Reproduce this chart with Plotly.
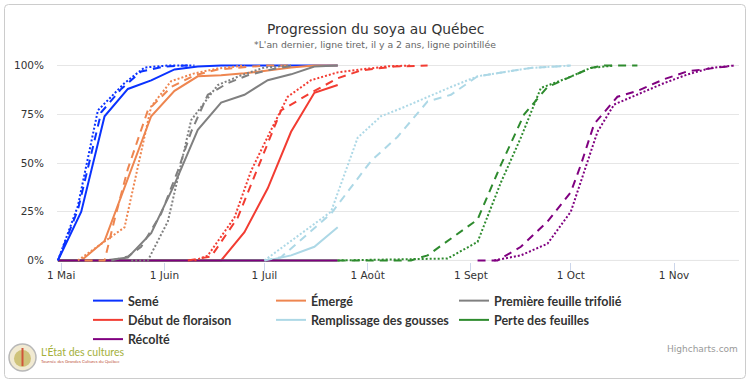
import plotly.graph_objects as go

# ---------------- data ----------------
month_ticks = ["2025-05-01", "2025-06-01", "2025-07-01", "2025-08-01",
               "2025-09-01", "2025-10-01", "2025-11-01"]
month_labels = ["1 Mai", "1 Juin", "1 Juil", "1 Août", "1 Sept", "1 Oct", "1 Nov"]
pct_ticks = [0, 25, 50, 75, 100]
pct_labels = ["0%", "25%", "50%", "75%", "100%"]

phases = ["Semé", "Émergé", "Première feuille trifolié", "Début de floraison",
          "Remplissage des gousses", "Perte des feuilles", "Récolté"]
phase_colors = ["#0a32ff", "#ee8650", "#808080", "#f23c32",
                "#add8e6", "#2e8b2e", "#800080"]

# current year (solid)
cur_dates = ["2025-04-30", "2025-05-07", "2025-05-14", "2025-05-21", "2025-05-28",
             "2025-06-04", "2025-06-11", "2025-06-18", "2025-06-25", "2025-07-02",
             "2025-07-09", "2025-07-16", "2025-07-23"]
seme_cur = [0, 25, 74, 88, 92.4, 98, 99.5, 100, 100, 100, 100, 100, 100]
emerge_cur = [0, 0, 10, 42, 74, 87, 94.5, 95, 96, 97.5, 99, 100, 100]
premiere_cur = [0, 0, 0, 1.5, 14, 39, 67, 81, 85, 92.5, 95.5, 99.5, 100]
debut_cur = [0, 0, 0, 0, 0, 0, 0, 0, 14.5, 37, 66, 86, 90]
rempl_cur = [0, 0, 0, 0, 0, 0, 0, 0, 0, 0, 2.6, 7, 17]
perte_cur = [0, 0, 0, 0, 0, 0, 0, 0, 0, 0, 0, 0, 0]
recolte_cur = [0, 0, 0, 0, 0, 0, 0, 0, 0, 0, 0, 0, 0]

# last year (dashed)
seme_ly_dates = ["2025-04-30", "2025-05-06", "2025-05-13", "2025-05-19", "2025-05-25",
                 "2025-06-01", "2025-06-08"]
seme_ly = [0, 26, 76, 88, 97, 99.5, 100]
emerge_ly_dates = ["2025-05-08", "2025-05-14", "2025-05-17", "2025-05-21", "2025-05-27",
                   "2025-06-03", "2025-06-10", "2025-06-17", "2025-06-24", "2025-07-01",
                   "2025-07-09"]
emerge_ly = [0, 0, 21, 47, 77, 89, 95, 98, 99, 100, 100]
premiere_ly_dates = ["2025-05-16", "2025-05-21", "2025-05-25", "2025-05-31", "2025-06-05",
                     "2025-06-09", "2025-06-14", "2025-06-20", "2025-06-26", "2025-07-03",
                     "2025-07-10"]
premiere_ly = [0, 2, 7, 24, 46, 66, 85, 91, 95, 98, 100]
debut_ly_dates = ["2025-06-08", "2025-06-15", "2025-06-23", "2025-06-30", "2025-07-06",
                  "2025-07-15", "2025-07-23", "2025-07-30", "2025-08-09", "2025-08-19"]
debut_ly = [0, 2, 22, 52, 77, 86, 93.5, 97.5, 99.5, 100]
rempl_ly_dates = ["2025-07-01", "2025-07-06", "2025-07-21", "2025-08-02", "2025-08-10",
                  "2025-08-19", "2025-08-26", "2025-09-03", "2025-09-19", "2025-10-01"]
rempl_ly = [0, 1.7, 24, 51, 63.5, 81.6, 85, 94.5, 98.8, 100]
perte_ly_dates = ["2025-07-23", "2025-08-14", "2025-08-19", "2025-09-03", "2025-09-10",
                  "2025-09-17", "2025-09-24", "2025-09-30", "2025-10-07", "2025-10-11",
                  "2025-10-21"]
perte_ly = [0, 0, 2.6, 21, 49, 75, 89, 93.6, 98.8, 100, 100]
recolte_ly_dates = ["2025-09-03", "2025-09-09", "2025-09-16", "2025-09-24", "2025-10-01",
                    "2025-10-04", "2025-10-08", "2025-10-15", "2025-10-21", "2025-10-29",
                    "2025-11-05", "2025-11-19"]
recolte_ly = [0, 0, 7, 20, 35, 49, 70, 84, 87, 93, 97, 100]

# two years ago (dotted)
seme_2y_dates = ["2025-04-30", "2025-05-06", "2025-05-12", "2025-05-20", "2025-05-26",
                 "2025-06-02", "2025-06-10"]
seme_2y = [0, 28, 77, 91, 99, 100, 100]
emerge_2y_dates = ["2025-05-06", "2025-05-14", "2025-05-20", "2025-05-28", "2025-06-03",
                   "2025-06-10", "2025-06-17", "2025-06-25"]
emerge_2y = [0, 9.5, 17, 79, 92, 96, 98.5, 100]
premiere_2y_dates = ["2025-05-22", "2025-05-27", "2025-06-02", "2025-06-09", "2025-06-17",
                     "2025-06-24", "2025-07-01", "2025-07-09"]
premiere_2y = [0, 0, 20, 72, 90, 95, 99, 100]
debut_2y_dates = ["2025-06-10", "2025-06-14", "2025-06-22", "2025-06-27", "2025-07-03",
                  "2025-07-08", "2025-07-15", "2025-07-23", "2025-07-30", "2025-08-07",
                  "2025-08-14"]
debut_2y = [0, 2.5, 22, 46, 67, 84, 92.5, 96.5, 98, 99.6, 100]
rempl_2y_dates = ["2025-07-01", "2025-07-21", "2025-07-29", "2025-08-05", "2025-08-11",
                  "2025-08-19", "2025-08-26", "2025-09-03", "2025-09-19", "2025-10-01"]
rempl_2y = [0, 25, 63, 74, 78, 84, 89, 94.5, 98.8, 100]
perte_2y_dates = ["2025-07-23", "2025-08-25", "2025-09-03", "2025-09-10", "2025-09-16",
                  "2025-09-22", "2025-09-30", "2025-10-07", "2025-10-14"]
perte_2y = [0, 1, 9.5, 40, 63, 88.5, 93.6, 98.8, 100]
recolte_2y_dates = ["2025-09-08", "2025-09-16", "2025-09-24", "2025-10-01", "2025-10-05",
                    "2025-10-09", "2025-10-14", "2025-10-21", "2025-10-29", "2025-11-05",
                    "2025-11-12", "2025-11-19"]
recolte_2y = [0, 2.6, 8.6, 25, 45.5, 66, 80, 85, 91, 95.4, 98.8, 100]

cur_series = [seme_cur, emerge_cur, premiere_cur, debut_cur, rempl_cur, perte_cur, recolte_cur]
ly_series = [(seme_ly_dates, seme_ly), (emerge_ly_dates, emerge_ly),
             (premiere_ly_dates, premiere_ly), (debut_ly_dates, debut_ly),
             (rempl_ly_dates, rempl_ly), (perte_ly_dates, perte_ly),
             (recolte_ly_dates, recolte_ly)]
two_y_series = [(seme_2y_dates, seme_2y), (emerge_2y_dates, emerge_2y),
                (premiere_2y_dates, premiere_2y), (debut_2y_dates, debut_2y),
                (rempl_2y_dates, rempl_2y), (perte_2y_dates, perte_2y),
                (recolte_2y_dates, recolte_2y)]

# ---------------- layout geometry ----------------
W, H = 750, 383
ML, MR, MT, MB = 57, 11, 64, 121
PW, PH = W - ML - MR, H - MT - MB


def px_x(X):
    return (X - ML) / PW


def px_y(Y):
    return (H - MB - Y) / PH


fig = go.Figure()

for name, color, vals in zip(phases, phase_colors, cur_series):
    fig.add_trace(go.Scatter(x=cur_dates, y=vals, mode="lines", name=name,
                             legendgroup=name,
                             line=dict(color=color, width=2)))
for name, color, (d, v) in zip(phases, phase_colors, ly_series):
    fig.add_trace(go.Scatter(x=d, y=v, mode="lines", name=name + " (an dernier)",
                             legendgroup=name, showlegend=False,
                             line=dict(color=color, width=2, dash="8px,6px")))
for name, color, (d, v) in zip(phases, phase_colors, two_y_series):
    fig.add_trace(go.Scatter(x=d, y=v, mode="lines", name=name + " (il y a 2 ans)",
                             legendgroup=name, showlegend=False,
                             line=dict(color=color, width=2, dash="2px,2px")))

fig.update_layout(
    width=W, height=H,
    margin=dict(l=ML, r=MR, t=MT, b=MB, pad=0),
    paper_bgcolor="white", plot_bgcolor="white",
    font=dict(family="DejaVu Sans", color="#333333", size=11),
    showlegend=True,
    legend=dict(orientation="h", x=px_x(88), xanchor="left",
                y=px_y(286), yanchor="top",
                entrywidth=138, entrywidthmode="pixels",
                font=dict(family="Lato", size=12.5, color="#333333", weight="bold"),
                bgcolor="rgba(0,0,0,0)", tracegroupgap=0),
    xaxis=dict(type="date",
               range=["2025-04-29 17:17", "2025-11-20 12:00"],
               tickmode="array", tickvals=month_ticks, ticktext=month_labels,
               showgrid=False, zeroline=False, showline=False,
               ticks="outside", ticklen=8, tickcolor="#ccd6eb", tickwidth=1,
               ticklabelstandoff=-5,
               tickfont=dict(size=10.5, color="#333333", family="DejaVu Sans"),
               fixedrange=True),
    yaxis=dict(range=[-0.8, 100.8], tickmode="array", tickvals=pct_ticks,
               ticktext=pct_labels, showgrid=True, gridcolor="#e6e6e6", gridwidth=1,
               zeroline=False, showline=False, ticks="",
               ticklabelstandoff=12,
               tickfont=dict(size=10.5, color="#333333", family="DejaVu Sans"),
               fixedrange=True),
)

# x axis line (Highcharts axis line at 0)
fig.add_shape(type="line", xref="paper", yref="y", x0=0, x1=1, y0=0, y1=0,
              line=dict(color="#ccd6eb", width=1), layer="below")

# outer chart border with rounded corners
bx0, bx1, by0, by1 = px_x(4.5), px_x(745.5), px_y(4.5), px_y(378.5)
rx, ry = 4 / PW, 4 / PH
path = (f"M{bx0 + rx},{by0} L{bx1 - rx},{by0} Q{bx1},{by0} {bx1},{by0 - ry} "
        f"L{bx1},{by1 + ry} Q{bx1},{by1} {bx1 - rx},{by1} "
        f"L{bx0 + rx},{by1} Q{bx0},{by1} {bx0},{by1 + ry} "
        f"L{bx0},{by0 - ry} Q{bx0},{by0} {bx0 + rx},{by0} Z")
fig.add_shape(type="path", xref="paper", yref="paper", path=path,
              line=dict(color="#cccccc", width=1), fillcolor="rgba(0,0,0,0)")

# title & subtitle
fig.add_annotation(text="Progression du soya au Québec", xref="paper", yref="paper",
                   x=px_x(375), y=px_y(29), xanchor="center", yanchor="middle",
                   showarrow=False, font=dict(family="DejaVu Sans", size=13.8, color="#333333"))
fig.add_annotation(text="*L'an dernier, ligne tiret, il y a 2 ans, ligne pointillée",
                   xref="paper", yref="paper",
                   x=px_x(375), y=px_y(44), xanchor="center", yanchor="middle",
                   showarrow=False, font=dict(family="DejaVu Sans", size=9.3, color="#666666"))

# credits
fig.add_annotation(text="Highcharts.com", xref="paper", yref="paper",
                   x=px_x(740), y=px_y(349), xanchor="right", yanchor="middle",
                   showarrow=False, font=dict(family="DejaVu Sans", size=9, color="#999999"))

# logo (circle + text)
fig.add_shape(type="circle", xref="paper", yref="paper",
              x0=px_x(9), x1=px_x(36), y0=px_y(344), y1=px_y(371),
              line=dict(color="#b8b8b8", width=1.5), fillcolor="#f1ead2")
fig.add_shape(type="circle", xref="paper", yref="paper",
              x0=px_x(14), x1=px_x(31), y0=px_y(350), y1=px_y(367),
              line=dict(color="rgba(0,0,0,0)", width=0), fillcolor="#cfc37a")
fig.add_shape(type="line", xref="paper", yref="paper",
              x0=px_x(22.5), x1=px_x(22.5), y0=px_y(348), y1=px_y(366),
              line=dict(color="#d0553a", width=2))
fig.add_annotation(text="L'État des cultures", xref="paper", yref="paper",
                   x=px_x(39), y=px_y(351), xanchor="left", yanchor="middle",
                   showarrow=False, font=dict(family="Lato", size=10.5, color="#a3b03a"))
fig.add_annotation(text="Tournée des Grandes Cultures du Québec", xref="paper", yref="paper",
                   x=px_x(39), y=px_y(361), xanchor="left", yanchor="middle",
                   showarrow=False, font=dict(family="Lato", size=4.3, color="#c0553a"))

fig.write_html("out.html", config={"displayModeBar": False},
               post_script="document.body.style.margin='0px';document.body.style.padding='0px';")
